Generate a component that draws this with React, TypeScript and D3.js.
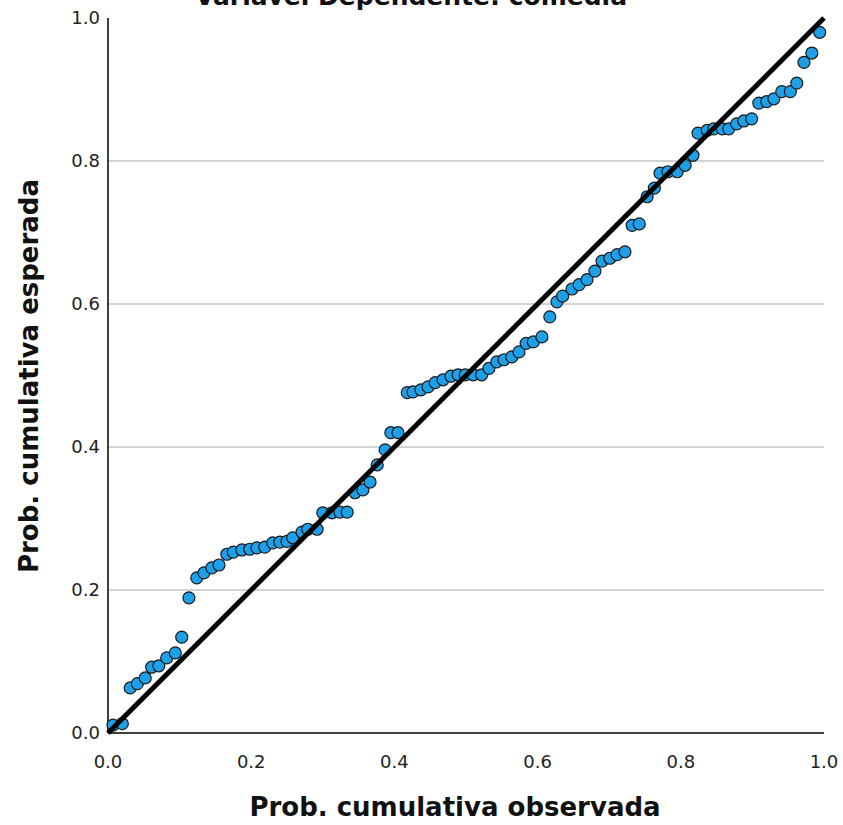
import * as d3 from 'd3';

// P-P plot values
const observed = [
  0.007, 0.02, 0.031, 0.041, 0.052, 0.061, 0.071, 0.082, 0.094, 0.103, 0.113, 0.124, 0.134, 0.145, 0.155,
  0.166, 0.175, 0.187, 0.198, 0.208, 0.219, 0.23, 0.24, 0.25, 0.258, 0.271, 0.279, 0.292, 0.3, 0.313,
  0.324, 0.334, 0.345, 0.356, 0.366, 0.376, 0.387, 0.395, 0.405,
  0.418, 0.426, 0.437, 0.447, 0.457, 0.468, 0.479, 0.489, 0.499, 0.51, 0.522, 0.532, 0.543, 0.553,
  0.564, 0.574, 0.584, 0.594, 0.606,
  0.617, 0.627, 0.635, 0.648, 0.658, 0.669, 0.68, 0.69, 0.701, 0.711, 0.722, 0.732, 0.742, 0.753, 0.763,
  0.771, 0.782, 0.795, 0.806, 0.817, 0.824, 0.837, 0.846, 0.858, 0.867, 0.878, 0.888, 0.899, 0.909,
  0.92, 0.93, 0.941, 0.953, 0.962, 0.972, 0.983, 0.994,
];

const expected = [
  0.011, 0.013, 0.063, 0.069, 0.077, 0.092, 0.094, 0.105, 0.112, 0.134, 0.189, 0.217, 0.224, 0.231, 0.235,
  0.25, 0.253, 0.256, 0.257, 0.259, 0.26, 0.266, 0.267, 0.268, 0.273, 0.281, 0.285, 0.285, 0.308, 0.308,
  0.309, 0.309, 0.336, 0.34, 0.351, 0.375, 0.396, 0.42, 0.42,
  0.476, 0.477, 0.48, 0.484, 0.49, 0.494, 0.499, 0.501, 0.501, 0.501, 0.501, 0.51, 0.519, 0.522,
  0.526, 0.533, 0.545, 0.547, 0.554,
  0.582, 0.603, 0.611, 0.621, 0.627, 0.634, 0.646, 0.66, 0.664, 0.669, 0.673, 0.71, 0.712, 0.75, 0.762,
  0.783, 0.785, 0.785, 0.794, 0.808, 0.839, 0.843, 0.845, 0.845, 0.845, 0.852, 0.856, 0.859, 0.881,
  0.883, 0.887, 0.897, 0.897, 0.909, 0.938, 0.951, 0.98,
];

const ticks = [0, 0.2, 0.4, 0.6, 0.8, 1.0];
const gridTicks = [0.2, 0.4, 0.6, 0.8];

const title = 'Variável Dependente: comedia';
const xTitle = 'Prob. cumulativa observada';
const yTitle = 'Prob. cumulativa esperada';

const W = 843;
const H = 825;
const font = '"DejaVu Sans", sans-serif';

export default function App() {
  const x = d3.scaleLinear().domain([0, 1]).range([108, 824]);
  const y = d3.scaleLinear().domain([0, 1]).range([733, 18]);
  const points = observed.map((o, i) => ({ o, e: expected[i] }));

  return (
    <svg
      width={W}
      height={H}
      style={{ position: 'absolute', left: 0, top: 0, background: '#fff' }}
      fontFamily={font}
    >
      {/* title sits mostly above the top edge, as in the original export */}
      <text x={411} y={5} textAnchor="middle" fontSize={25} fontWeight="bold" fill="#111">
        {title}
      </text>

      {/* grid */}
      {gridTicks.map((t) => (
        <line key={t} x1={x(0)} x2={x(1)} y1={y(t)} y2={y(t)} stroke="#a8a8a8" strokeWidth={1.2} />
      ))}

      {/* axes */}
      <line x1={x(0)} x2={x(0)} y1={y(0)} y2={y(1)} stroke="#000" strokeWidth={1.5} />
      <line x1={x(0)} x2={x(1)} y1={y(0)} y2={y(0)} stroke="#000" strokeWidth={1.5} />

      {ticks.map((t) => (
        <text key={'y' + t} x={x(0) - 8} y={y(t)} dy="0.35em" textAnchor="end" fontSize={18} fill="#222">
          {t.toFixed(1)}
        </text>
      ))}
      {ticks.map((t) => (
        <text key={'x' + t} x={x(t)} y={768} textAnchor="middle" fontSize={18} fill="#222">
          {t.toFixed(1)}
        </text>
      ))}

      <text x={455} y={816} textAnchor="middle" fontSize={26} fontWeight="bold" fill="#111">
        {xTitle}
      </text>
      <text
        transform={`translate(38,376) rotate(-90)`}
        textAnchor="middle"
        fontSize={26}
        fontWeight="bold"
        fill="#111"
      >
        {yTitle}
      </text>

      {points.map((p, i) => (
        <circle key={i} cx={x(p.o)} cy={y(p.e)} r={6} fill="#1ea0e8" stroke="#1a1a1a" strokeWidth={1.2} />
      ))}

      <line x1={x(0)} y1={y(0)} x2={x(1)} y2={y(1)} stroke="#000" strokeWidth={5} />
    </svg>
  );
}
